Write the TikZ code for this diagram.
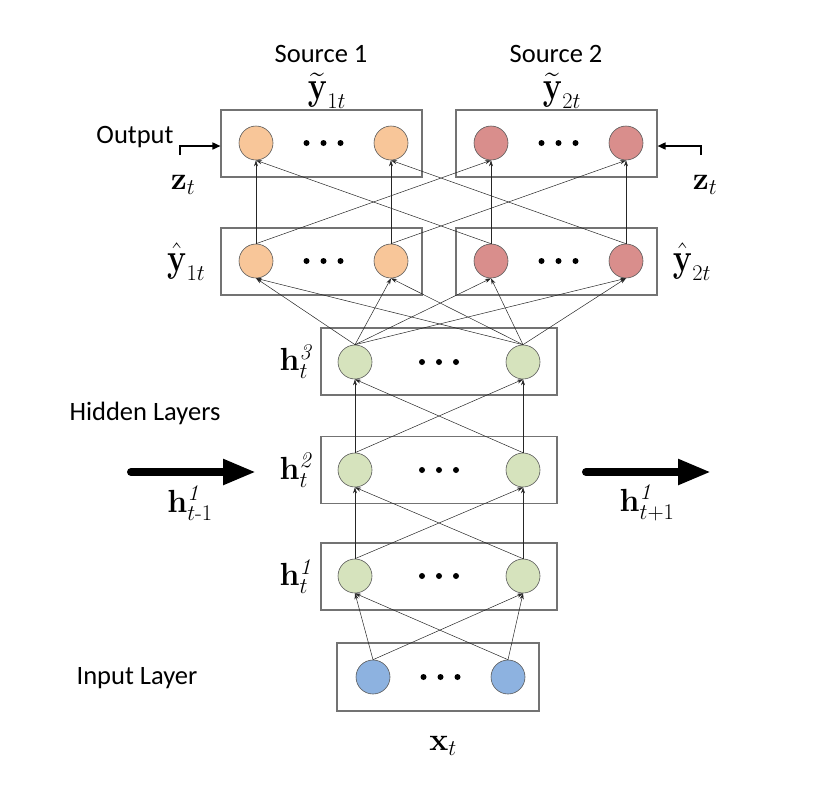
\RequirePackage{fix-cm}
\documentclass[tikz,border=0pt]{standalone}
\usepackage{amsmath}
\usepackage[no-math]{fontspec}
\setsansfont{Carlito}
\usepackage{graphicx}
\usepackage{tikz}
\usetikzlibrary{
	positioning,
	arrows.meta,
	calc
}
\definecolor{srcone}{HTML}{F8C699}
\definecolor{srctwo}{HTML}{D98E8C}
\definecolor{hidden}{HTML}{D6E3BD}
\definecolor{input}{HTML}{8DB2E0}
\tikzset{
	unit/.style={
		circle, draw=black!65, line width=0.6pt,
		minimum size=34pt, inner sep=0pt
	},
	layer/.style={
		rectangle, draw=black!55, line width=1.1pt,
		minimum width=201pt, minimum height=67pt, inner sep=0pt
	},
	conn/.style={
		-{Stealth[length=6pt,width=4pt]}, line width=0.5pt, black!85
	},
	bigarrow/.style={
		-{Triangle[length=33pt,width=24pt]}, line width=8pt, line cap=round
	},
	outarrow/.style={
		-{Triangle[length=8pt,width=7pt]}, line width=1.6pt
	},
	tag/.style={font=\sffamily\fontsize{26.5}{30}\selectfont, inner sep=1pt},
	sym/.style={font=\fontsize{32}{36}\selectfont, inner sep=1pt}
}
\newcommand\yv[1]{\scalebox{1}[1.25]{$#1$}}

\begin{document}
\begin{tikzpicture}[x=1pt,y=-1pt]
		\useasboundingbox (0,0) rectangle (822,796);

		% layer boxes
		\node[layer] (ob1) at (321.5,143.5) {};
		\node[layer] (ob2) at (556.5,143.5) {};
		\node[layer] (yb1) at (321.5,261.5) {};
		\node[layer] (yb2) at (556.5,261.5) {};
		\node[layer,minimum width=236pt] (hb3) at (439,361.5) {};
		\node[layer,minimum width=236pt] (hb2) at (439,470) {};
		\node[layer,minimum width=236pt] (hb1) at (439,576.5) {};
		\node[layer,minimum width=202pt,minimum height=68pt] (xb) at (438,677) {};

		% units
		\node[unit,fill=srcone] (z1a) at (256,143) {};
		\node[unit,fill=srcone] (z1b) at (391,143) {};
		\node[unit,fill=srctwo] (z2a) at (491,143) {};
		\node[unit,fill=srctwo] (z2b) at (626,143) {};
		\node[unit,fill=srcone] (y1a) at (256,261) {};
		\node[unit,fill=srcone] (y1b) at (391,261) {};
		\node[unit,fill=srctwo] (y2a) at (491,261) {};
		\node[unit,fill=srctwo] (y2b) at (626,261) {};
		\node[unit,fill=hidden] (h3a) at (355,362) {};
		\node[unit,fill=hidden] (h3b) at (523,362) {};
		\node[unit,fill=hidden] (h2a) at (355,470) {};
		\node[unit,fill=hidden] (h2b) at (523,470) {};
		\node[unit,fill=hidden] (h1a) at (355,576) {};
		\node[unit,fill=hidden] (h1b) at (523,576) {};
		\node[unit,fill=input]  (xa)  at (373,677) {};
		\node[unit,fill=input]  (xb)  at (508,677) {};

		\foreach \p/\q in {z1a/z1b,z2a/z2b,y1a/y1b,y2a/y2b,h3a/h3b,h2a/h2b,h1a/h1b,xa/xb}
			\foreach \d in {-17,0,17}
				\fill ($(\p)!0.5!(\q)+(\d,0)$) circle (3pt);

		% connections
		\foreach \s/\t in {x/h1,h1/h2,h2/h3}
			\foreach \a in {a,b}
				\foreach \b in {a,b}
					\draw[conn] (\s\a.north) -- (\t\b.south);
		\foreach \a in {a,b}
			\foreach \t in {y1a,y1b,y2a,y2b}
				\draw[conn] (h3\a.north) -- (\t.south);
		\foreach \i in {1,2}
			\foreach \j in {1,2}
				\foreach \a in {a,b}
					\draw[conn] (y\i\a.north) -- (z\j\a.south);

		% labels
		\node[tag] (src1) at (321,54) {Source 1};
		\node[tag] (src2) at (556,54) {Source 2};
		\node[sym] (yt1) at (327,91) {$\yv{\widetilde{\mathbf{y}}}_{1t}$};
		\node[sym] (yt2) at (562,91) {$\yv{\widetilde{\mathbf{y}}}_{2t}$};
		\node[tag] (outl) at (135,137) {Output};
		\node[sym] (zl) at (183,185) {$\mathbf{z}_t$};
		\node[sym] (zr) at (705,185) {$\mathbf{z}_t$};
		\node[sym,left=14pt of yb1]  (yh1) {$\yv{\hat{\mathbf{y}}}_{1t}$};
		\node[sym,right=14pt of yb2] (yh2) {$\yv{\hat{\mathbf{y}}}_{2t}$};
		\node[sym,left=5pt of hb3] (h3l) {$\mathbf{h}^{\mathit{3}}_t$};
		\node[sym,left=5pt of hb2] (h2l) {$\mathbf{h}^{\mathit{2}}_t$};
		\node[sym,left=5pt of hb1] (h1l) {$\mathbf{h}^{\mathit{1}}_t$};
		\node[tag] (hidl) at (145,413) {Hidden Layers};
		\node[tag] (inl) at (137,678) {Input Layer};
		\node[sym] (xl) at (443,746) {$\mathbf{x}_t$};
		\node[sym] (hpl) at (190,503) {$\mathbf{h}^{\mathit{1}}_{t\text{-}1}$};
		\node[sym] (hnl) at (647,503) {$\mathbf{h}^{\mathit{1}}_{t+1}$};

		% recurrent and output arrows
		\coordinate (hin1) at (131,472);
		\coordinate (hin2) at (256,472);
		\coordinate (hout1) at (586,472);
		\coordinate (hout2) at (711,472);
		\draw[bigarrow] (hin1) -- (hin2);
		\draw[bigarrow] (hout1) -- (hout2);
		\coordinate (oin1) at (180,155);
		\coordinate (oin2) at (701,155);
		\draw[outarrow] (oin1) |- ([yshift=-2.5pt]ob1.west);
		\draw[outarrow] (oin2) |- ([yshift=-2.5pt]ob2.east);
	\end{tikzpicture}
\end{document}
